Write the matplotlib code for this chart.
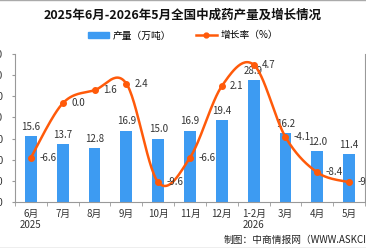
import matplotlib.pyplot as plt
import numpy as np
from matplotlib.patches import Patch
from matplotlib.lines import Line2D

plt.rcParams['font.family'] = ['Noto Sans CJK SC', 'DejaVu Sans']

months = ["6月\n2025", "7月", "8月", "9月", "10月", "11月", "12月", "1-2月\n2026", "3月", "4月", "5月"]
output = [15.6, 13.7, 12.8, 16.9, 15.0, 16.9, 19.4, 28.9, 16.2, 12.0, 11.4]
growth = [-6.6, 0.0, 1.6, 2.4, -9.6, -6.6, 2.1, 4.7, -4.1, -8.4, -9.6]

bar_color = '#3d9bf2'
line_color = '#ff5a0a'


def smooth(xs, ys, n=30):
    # catmull-rom curve through the points
    xs = np.asarray(xs, float)
    ys = np.asarray(ys, float)
    ox, oy = [], []
    k = len(xs)
    for i in range(k - 1):
        i0 = max(i - 1, 0)
        i3 = min(i + 2, k - 1)
        mx0 = (xs[i + 1] - xs[i0]) / 2
        my0 = (ys[i + 1] - ys[i0]) / 2
        mx1 = (xs[i3] - xs[i]) / 2
        my1 = (ys[i3] - ys[i]) / 2
        t = np.linspace(0, 1, n)
        h00 = 2 * t**3 - 3 * t**2 + 1
        h10 = t**3 - 2 * t**2 + t
        h01 = -2 * t**3 + 3 * t**2
        h11 = t**3 - t**2
        ox.extend(h00 * xs[i] + h10 * mx0 + h01 * xs[i + 1] + h11 * mx1)
        oy.extend(h00 * ys[i] + h10 * my0 + h01 * ys[i + 1] + h11 * my1)
    return np.array(ox), np.array(oy)


fig = plt.figure(figsize=(3.66, 2.48), dpi=100)
ax = fig.add_axes([15 / 366, 46 / 248, 350 / 366, 148 / 248])
x = np.arange(len(months))

bars = ax.bar(x, output, width=0.37, color=bar_color, zorder=2)
for xi, v in zip(x, output):
    ax.annotate(f"{v:.1f}", (xi, v), xytext=(0, 3), textcoords='offset points',
                ha='center', va='bottom', fontsize=7, color='#333333')

ax.set_xlim(-0.5, len(months) - 0.5)
ax.set_ylim(0, 35)
ax.set_yticks(np.arange(0, 36, 5))
ax.set_yticklabels([f"{v:.1f}" for v in np.arange(0, 36, 5)], fontsize=7, color='#333333')
ax.tick_params(axis='y', length=2.5, pad=6, color='#999999')
ax.set_xticks(x)
ax.set_xticklabels(months, fontsize=7, color='#333333', linespacing=1.1)
ax.set_xticks(np.arange(-0.5, len(months), 1), minor=True)
ax.tick_params(axis='x', which='major', length=0, pad=5)
ax.tick_params(axis='x', which='minor', length=3, color='#999999')
ax.spines['top'].set_visible(False)
ax.spines['right'].set_visible(False)
for s in ['left', 'bottom']:
    ax.spines[s].set_color('#999999')
    ax.spines[s].set_linewidth(0.8)

ax2 = ax.twinx()
ax2.set_ylim(-12, 6)
ax2.set_yticks([])
for s in ['top', 'left', 'bottom']:
    ax2.spines[s].set_visible(False)
ax2.spines['right'].set_color('#999999')
ax2.spines['right'].set_linewidth(0.8)

sx, sy = smooth(x, growth)
ax2.plot(sx, sy, color=line_color, lw=1.8, zorder=3)
ax2.plot(x, growth, 'o', color=line_color, ms=4, zorder=4)
for xi, v in zip(x, growth):
    ax2.annotate(f"{v:.1f}", (xi, v), xytext=(6, 0), textcoords='offset points',
                 ha='left', va='center', fontsize=7, color='#333333')

fig.text(0.5, 0.94, "2025年6月-2026年5月全国中成药产量及增长情况", ha='center', va='center',
         fontsize=9, fontweight='bold', color='#111111')

handles = [Patch(color=bar_color, label="产量（万吨）"),
           Line2D([0], [0], color=line_color, lw=1.8, marker='o', ms=3.5, label="增长率（%）")]
fig.legend(handles=handles, loc='center', bbox_to_anchor=(0.5, 0.857), ncol=2, frameon=False,
           fontsize=7, handlelength=2.2, handleheight=0.5, columnspacing=2.5, handletextpad=0.4)

fig.text(224 / 366, 8 / 248, "制图：中商情报网（WWW.ASKCI.COM）", ha='left', va='center',
         fontsize=7, color='#222222')

fig.add_artist(Line2D([0, 1], [0.998, 0.998], color='#aaaaaa', lw=1))
fig.add_artist(Line2D([0, 1], [0.002, 0.002], color='#aaaaaa', lw=1))

fig.savefig("out.png", dpi=100)
